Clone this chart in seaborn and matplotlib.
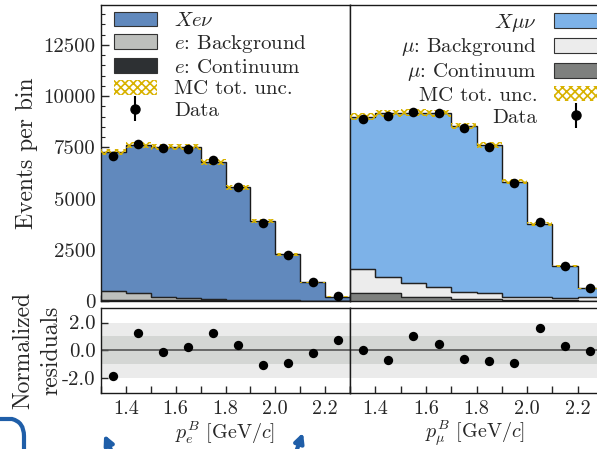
import numpy as np
import matplotlib
matplotlib.use("Agg")
import matplotlib.pyplot as plt
import seaborn as sns
from matplotlib.patches import FancyArrowPatch, PathPatch, Patch
from matplotlib.path import Path
from matplotlib.ticker import MultipleLocator
from matplotlib.legend_handler import HandlerErrorbar

# ---------------- data ----------------
bin_edges = [1.3, 1.4, 1.5, 1.6, 1.7, 1.8, 1.9, 2.0, 2.1, 2.2, 2.3]
bin_centers = [1.35, 1.45, 1.55, 1.65, 1.75, 1.85, 1.95, 2.05, 2.15, 2.25]

e_signal = [6758, 7241, 7325, 7374, 6704, 5502, 3881, 2250, 893, 195]
e_background = [433, 321, 165, 121, 68, 30, 28, 22, 15, 12]
e_continuum = [70, 55, 45, 40, 30, 20, 12, 8, 5, 3]
e_unc = [150, 150, 150, 150, 140, 120, 90, 60, 35, 20]
e_data = [7060, 7652, 7456, 7437, 6885, 5552, 3823, 2231, 913, 244]
e_resid = [-1.90, 1.22, -0.15, 0.20, 1.22, 0.39, -1.07, -0.93, -0.17, 0.71]

mu_signal = [7452, 7978, 8331, 8496, 8091, 7241, 5616, 3579, 1591, 410]
mu_background = [1172, 782, 683, 488, 371, 293, 175, 151, 107, 190]
mu_continuum = [376, 405, 181, 181, 83, 83, 35, 30, 25, 20]
mu_unc = [170, 170, 170, 170, 160, 150, 120, 80, 45, 25]
mu_data = [8872, 9048, 9244, 9165, 8448, 7535, 5747, 3858, 1709, 620]
mu_resid = [0.02, -0.73, 1.02, 0.44, -0.63, -0.80, -0.95, 1.61, 0.32, -0.07]

x_ticks = [1.4, 1.6, 1.8, 2.0, 2.2]
x_ticklabels = ["1.4", "1.6", "1.8", "2.0", "2.2"]
y_ticks = [0, 2500, 5000, 7500, 10000, 12500]
y_ticklabels = ["0", "2500", "5000", "7500", "10000", "12500"]
r_ticks = [-2, 0, 2]
r_ticklabels = ["-2.0", "0.0", "2.0"]

# ---------------- style ----------------
sns.set_theme(style="ticks")
plt.rcParams["font.family"] = ["cmr10", "DejaVu Serif"]
plt.rcParams["mathtext.fontset"] = "cm"
plt.rcParams["axes.unicode_minus"] = False
plt.rcParams["hatch.linewidth"] = 1.2
plt.rcParams["axes.linewidth"] = 1.0
FS = 15      # ticks / legend
FSX = 14.5   # x tick labels / x labels
FSY = 17     # y labels

W, H = 597, 449
fig = plt.figure(figsize=(W / 100, H / 100), dpi=100)


def fx(px):
    return px / W


def fy(py):
    return (H - py) / H


up_bot, up_top = 301, 5
rs_bot, rs_top = 393, 308
lx0, lx1 = 101, 350
rx0, rx1 = 350, 603

axL = fig.add_axes([fx(lx0), fy(up_bot), fx(lx1 - lx0), (up_bot - up_top) / H])
axR = fig.add_axes([fx(rx0), fy(up_bot), fx(rx1 - rx0), (up_bot - up_top) / H])
raL = fig.add_axes([fx(lx0), fy(rs_bot), fx(lx1 - lx0), (rs_bot - rs_top) / H])
raR = fig.add_axes([fx(rx0), fy(rs_bot), fx(rx1 - rx0), (rs_bot - rs_top) / H])

edges = np.array(bin_edges)
UNC_COLOR = "#d8b200"


def draw_stack(ax, cont, bg, sig, unc, data, colors):
    cont = np.array(cont, float)
    bg = np.array(bg, float)
    sig = np.array(sig, float)
    b1 = cont
    b2 = cont + bg
    b3 = cont + bg + sig
    ax.stairs(b3, edges, baseline=b2, fill=True, color=colors[0], zorder=1)
    ax.stairs(b3, edges, baseline=None, color="#1a1a1a", lw=1.0, zorder=2)
    ax.stairs(b2, edges, baseline=b1, fill=True, facecolor=colors[1],
              edgecolor="#222222", lw=0.9, zorder=2)
    ax.stairs(b1, edges, baseline=0, fill=True, facecolor=colors[2],
              edgecolor="#222222", lw=0.9, zorder=2)
    ax.stairs(b2, edges, baseline=None, color="#222222", lw=0.9, zorder=3)
    unc = np.array(unc, float)
    ax.bar(bin_centers, 2 * unc, width=0.1, bottom=b3 - unc, fill=False,
           hatch="xxxx", edgecolor=UNC_COLOR, lw=0, zorder=4)
    ax.errorbar(bin_centers, data, yerr=np.sqrt(data), fmt="none",
                ecolor="black", elinewidth=1.5, zorder=5)
    sns.scatterplot(x=bin_centers, y=data, ax=ax, color="black", s=48,
                    linewidth=0, zorder=6, legend=False)
    eb = ax.errorbar([], [], yerr=[], fmt="o", color="black", ms=6.5, elinewidth=1.5)
    handles = [
        Patch(facecolor=colors[0], edgecolor="#333333", lw=0.8),
        Patch(facecolor=colors[1], edgecolor="#333333", lw=0.8),
        Patch(facecolor=colors[2], edgecolor="#333333", lw=0.8),
        Patch(facecolor="white", edgecolor=UNC_COLOR, hatch="xxxx", lw=0),
        eb,
    ]
    return handles


e_colors = ["#6189bd", "#bdbfbc", "#2d3033"]
mu_colors = ["#7db2e8", "#ececec", "#7e807e"]
hL = draw_stack(axL, e_continuum, e_background, e_signal, e_unc, e_data, e_colors)
hR = draw_stack(axR, mu_continuum, mu_background, mu_signal, mu_unc, mu_data, mu_colors)

labelsL = [r"$Xe\nu$", r"$e$: Background", r"$e$: Continuum", "MC tot. unc.", "Data"]
labelsR = [r"$X\mu\nu$", r"$\mu$: Background", r"$\mu$: Continuum", "MC tot. unc.", "Data"]
hmap = {type(hL[4]): HandlerErrorbar(xerr_size=0, yerr_size=0.6)}
axL.legend(hL, labelsL, loc="upper left", bbox_to_anchor=(0.0, 1.02),
           frameon=False, fontsize=FS,
           handlelength=2.1, handleheight=0.72, labelspacing=0.14,
           borderaxespad=0.2, handletextpad=0.8, handler_map=hmap)
axR.legend(hR, labelsR, loc="upper right", bbox_to_anchor=(1.028, 1.02),
           frameon=False, fontsize=FS,
           handlelength=2.1, handleheight=0.72, labelspacing=0.14,
           borderaxespad=0.2, handletextpad=0.8, markerfirst=False,
           handler_map=hmap)

# axes limits & ticks
for ax in (axL, axR):
    ax.set_xlim(1.3, 2.3)
    ax.set_ylim(0, 14450)
    ax.set_xticks(bin_edges)
    ax.tick_params(axis="x", which="both", direction="in", labelbottom=False,
                   length=4, width=1)
    ax.yaxis.set_minor_locator(MultipleLocator(500))
axL.set_yticks(y_ticks)
axL.set_yticklabels(y_ticklabels, fontsize=FS)
axL.tick_params(axis="y", which="major", direction="in", length=6, width=1, pad=4)
axL.tick_params(axis="y", which="minor", direction="in", length=3, width=0.8)
axR.set_yticks(y_ticks)
axR.tick_params(axis="y", which="both", left=False, labelleft=False)
axL.set_ylabel("Events per bin", fontsize=FSY)
axL.yaxis.set_label_coords((38 - lx0) / (lx1 - lx0), 0.5)

for ax, res in ((raL, e_resid), (raR, mu_resid)):
    ax.axhspan(-2, 2, color="#ebebeb", lw=0, zorder=0)
    ax.axhspan(-1, 1, color="#d4d6d4", lw=0, zorder=0)
    ax.axhline(0, color="#555555", lw=1.2, zorder=1)
    sns.scatterplot(x=bin_centers, y=res, ax=ax, color="black", s=45,
                    linewidth=0, zorder=3, legend=False)
    ax.set_ylim(-3.1, 3.05)
    ax.set_xlim(1.3, 2.3)
    ax.set_xticks(x_ticks)
    ax.set_xticklabels(x_ticklabels, fontsize=FSX)
    ax.xaxis.set_minor_locator(MultipleLocator(0.1))
    ax.tick_params(axis="x", which="both", direction="in", length=5, width=1, pad=5)
    ax.set_facecolor("white")

raL.set_yticks(r_ticks)
raL.set_yticklabels(r_ticklabels, fontsize=FS)
raL.tick_params(axis="y", direction="in", length=5, width=1, pad=4)
raR.set_yticks(r_ticks)
raR.tick_params(axis="y", which="both", left=False, labelleft=False)
raL.set_ylabel("Normalized\nresiduals", fontsize=FSY, linespacing=1.3)
raL.yaxis.set_label_coords((62 - lx0) / (lx1 - lx0), 0.5)

raL.set_xlabel(r"$p_e^B$ [GeV/$c$]", fontsize=FSX)
raR.set_xlabel(r"$p_\mu^B$ [GeV/$c$]", fontsize=FSX)
raL.xaxis.set_label_coords(0.5, -(419 - rs_bot) / (rs_bot - rs_top))
raR.xaxis.set_label_coords((475 - rx0) / (rx1 - rx0), -(418.5 - rs_bot) / (rs_bot - rs_top))

for ax in (axL, axR, raL, raR):
    for s in ax.spines.values():
        s.set_visible(True)
        s.set_color("#1a1a1a")

# slide annotations (blue arrows and frame corner)
blue = "#1f5ea8"
for (x0, y0, x1, y1) in [(112, 452, 103, 432), (296, 452, 304, 430)]:
    fig.add_artist(FancyArrowPatch((fx(x0), fy(y0)), (fx(x1), fy(y1)),
                                   transform=fig.transFigure, arrowstyle="-|>",
                                   mutation_scale=14, lw=3, color=blue))
verts = [(fx(-2), fy(419)), (fx(12), fy(419)), (fx(24), fy(422)), (fx(24), fy(436)), (fx(24), fy(452))]
codes = [Path.MOVETO, Path.LINETO, Path.CURVE3, Path.CURVE3, Path.LINETO]
fig.add_artist(PathPatch(Path(verts, codes), transform=fig.transFigure,
                         fill=False, edgecolor=blue, lw=3))

fig.savefig("out.png", dpi=100)
